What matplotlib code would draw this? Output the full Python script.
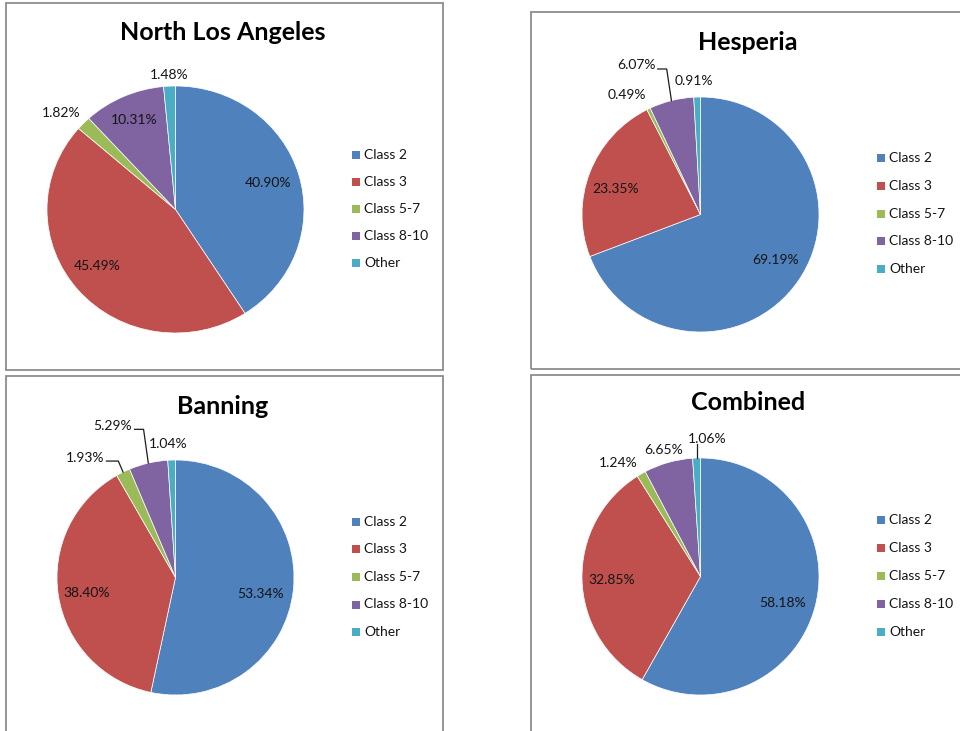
import matplotlib
matplotlib.use('Agg')
import matplotlib.pyplot as plt
import numpy as np
from matplotlib.patches import Rectangle
from matplotlib.lines import Line2D

W, H = 960, 731

categories = ['Class 2', 'Class 3', 'Class 5-7', 'Class 8-10', 'Other']
colors = ['#4F81BD', '#C0504D', '#9BBB59', '#8064A2', '#4BACC6']

nla = [40.90, 45.49, 1.82, 10.31, 1.48]
hesperia = [69.19, 23.35, 0.49, 6.07, 0.91]
banning = [53.34, 38.40, 1.93, 5.29, 1.04]
combined = [58.18, 32.85, 1.24, 6.65, 1.06]

titles = ['North Los Angeles', 'Hesperia', 'Banning', 'Combined']
datasets = [nla, hesperia, banning, combined]

FONT = ['Lato', 'DejaVu Sans']
TXT = '#141414'

# layout (pixels, y from top)
panels = [
    dict(box=(6, 3, 443, 370), c=(175.5, 209.5), r=(128.5, 123.5), title=(223, 33),
         leg=(352, 364, 155.0, 27.1),
         lab=[(0.75, 0, None), (0.76, -4, None), (1.18, 3, None), (0.79, 0, None), (1.09, 0, None)]),
    dict(box=(531, 12, 975, 369), c=(700.5, 214.5), r=(118.5, 117.5), title=(748, 43),
         leg=(877, 889, 158.3, 27.7),
         lab=[(0.74, 3, None), (0.75, 4, None), (1.195, 5.5, None), (1.38, 9, 'elbow'), (1.14, 1, None)]),
    dict(box=(6, 376, 443, 740), c=(175.5, 577.5), r=(118.5, 117.5), title=(223, 407),
         leg=(352, 364, 521.7, 27.6),
         lab=[(0.73, -5, None), (0.76, 1, None), (1.276, 10.6, 'elbow'), (1.395, 9, 'elbow'), (1.14, 1.3, None)]),
    dict(box=(531, 375, 975, 740), c=(700.5, 576.5), r=(118.5, 118.5), title=(748, 403),
         leg=(877, 889, 520.0, 27.9),
         lab=[(0.73, -3, None), (0.75, 0.8, None), (1.184, 6, None), (1.116, 0.6, None), (1.16, -4.6, 'vertical')]),
]

fig = plt.figure(figsize=(W / 100, H / 100), dpi=100)
fig.patch.set_facecolor('white')

L = 1.5
axes_info = []
for p, title, vals in zip(panels, titles, datasets):
    x0, y0, x1, y1 = p['box']
    fig.add_artist(Rectangle((x0 / W, 1 - y1 / H), (x1 - x0) / W, (y1 - y0) / H,
                             transform=fig.transFigure, fill=False,
                             edgecolor='#8c8c8c', linewidth=1.3))
    cx, cy = p['c']
    rx, ry = p['r']
    ax = fig.add_axes([(cx - L * rx) / W, 1 - (cy + L * ry) / H, 2 * L * rx / W, 2 * L * ry / H])
    wedges, _ = ax.pie(vals, colors=colors, startangle=90, counterclock=False, radius=1,
                       wedgeprops=dict(edgecolor='white', linewidth=0.5))
    ax.set_aspect('auto')
    ax.set_xlim(-L, L)
    ax.set_ylim(-L, L)
    ax.axis('off')

    texts = []
    for w, v, (rr, dth, leader) in zip(wedges, vals, p['lab']):
        mid = np.deg2rad((w.theta1 + w.theta2) / 2)
        a = mid + np.deg2rad(dth)
        t = ax.text(rr * np.cos(a), rr * np.sin(a), f'{v:.2f}%', ha='center', va='center',
                    fontsize=10, color=TXT, family=FONT)
        texts.append((t, mid, leader))
    axes_info.append((ax, texts))

    fig.text(p['title'][0] / W, 1 - p['title'][1] / H, title, ha='center', va='center',
             fontsize=18, fontweight='bold', color='black', family=FONT)

    mx, tx, ry0, pitch = p['leg']
    for i, (cat, col) in enumerate(zip(categories, colors)):
        yc = ry0 + i * pitch
        fig.add_artist(Rectangle((mx / W, 1 - (yc + 4) / H), 8 / W, 8 / H,
                                 transform=fig.transFigure, facecolor=col, edgecolor='none'))
        fig.text(tx / W, 1 - yc / H, cat, ha='left', va='center', fontsize=10,
                 color=TXT, family=FONT)

fig.canvas.draw()
renderer = fig.canvas.get_renderer()
for ax, texts in axes_info:
    inv = ax.transData.inverted()
    for t, mid, leader in texts:
        if leader is None:
            continue
        bb = t.get_window_extent(renderer)
        (bx0, by0), (bx1, by1) = inv.transform([[bb.x0, bb.y0], [bb.x1, bb.y1]])
        xe, ye = np.cos(mid), np.sin(mid)
        if leader == 'elbow':
            yl = (by0 + by1) / 2 - 0.03
            xs = [bx1 + 0.02, xe - 0.04, xe]
            ys = [yl, yl, ye]
        else:
            xs = [xe, xe]
            ys = [by0 + 0.01, ye]
        ax.add_line(Line2D(xs, ys, color='#1c1c1c', linewidth=0.9, clip_on=False))

fig.savefig('out.png', dpi=100, facecolor='white')
